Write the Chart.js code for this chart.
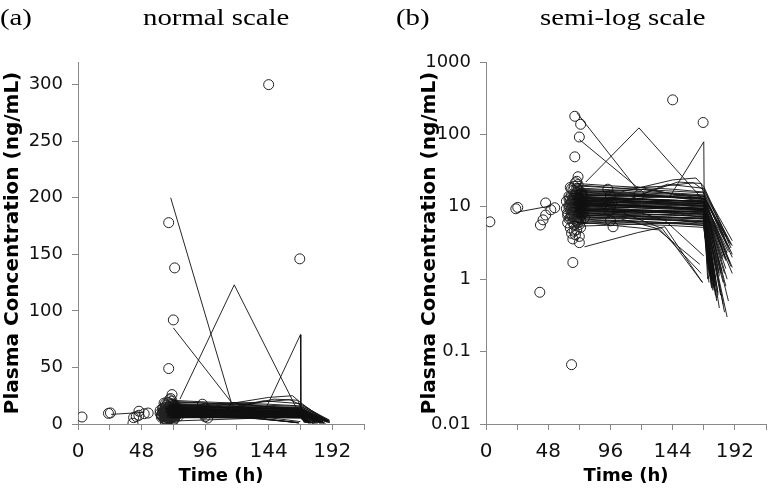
<!DOCTYPE html>
<html>
<head>
<meta charset="utf-8">
<script src="https://cdn.jsdelivr.net/npm/chart.js"></script>
<style>
  body { margin: 0; background: #fff; }
  .panel { position: absolute; top: 0; }
</style>
</head>
<body>
<canvas id="normalChart" class="panel" width="388" height="490" style="left:0"></canvas>
<canvas id="logChart" class="panel" width="388" height="490" style="left:388px"></canvas>
<script>
const timeTicks = [0, 24, 48, 72, 96, 120, 144, 168, 192, 216];
const linearTicks = [0, 50, 100, 150, 200, 250, 300];
const logTicks = [0.01, 0.1, 1, 10, 100, 1000];

// observed concentrations (open circles)
const obsTime = [
  3, 23, 24.5, 41.5, 42, 44, 46, 46, 50, 53,
  66, 67, 72, 68.5, 73, 72, 68.5, 71, 70,
  144, 167.5,
  94, 96, 97, 95, 96, 96, 98, 118,
  63, 64, 64, 65, 65, 65, 66, 66, 66, 66,
  67, 67, 67, 67, 68, 68, 68, 68, 68, 69,
  69, 69, 69, 69, 70, 70, 70, 70, 70, 70,
  71, 71, 71, 71, 72, 72, 72, 72, 72, 73,
  73, 73, 73, 74, 74, 74, 75, 75, 75, 76,
  64, 65, 67, 69, 71, 73, 62, 62, 63, 76,
  64, 65, 66, 67, 68, 69, 70, 71, 72, 73,
  65, 66, 67, 68, 69, 70, 71, 72, 73, 74,
  66, 67, 68, 69, 70, 71, 72, 73, 68, 70,
  63, 64, 66, 68, 70, 72, 74, 69, 71, 67
];
const obsConc = [
  6.2, 9.4, 9.8, 0.66, 5.6, 6.6, 7.7, 11.3, 9.1, 9.7,
  0.066, 1.7, 3.2, 178, 138, 92, 49, 26, 22.5,
  300, 146,
  17.5, 14.2, 11.3, 8.8, 10, 6.4, 5.3, 14.6,
  8.2, 10.5, 6.8, 12.3, 9.1, 5.1, 7.4, 14.6, 11.2, 4.3,
  8.9, 16.8, 6.1, 10.0, 12.9, 7.7, 9.6, 19.2, 5.6, 11.6,
  8.4, 13.8, 6.5, 21.5, 10.3, 7.2, 15.9, 9.0, 4.8, 12.4,
  8.0, 11.0, 17.6, 6.0, 9.5, 13.2, 7.0, 10.8, 3.9, 8.6,
  12.0, 15.1, 6.7, 9.9, 11.8, 7.9, 10.6, 8.3, 13.9, 9.2,
  14.0, 18.5, 3.6, 4.1, 20.3, 5.2, 9.4, 11.9, 6.0, 7.1,
  9.8, 11.0, 8.0, 13.1, 10.8, 9.3, 11.4, 9.0, 12.6, 10.1,
  7.0, 9.9, 11.9, 6.9, 15.0, 8.6, 12.8, 16.2, 9.1, 13.0,
  12.0, 7.2, 14.3, 10.4, 18.0, 6.6, 8.1, 11.2, 10.0, 13.5,
  7.6, 12.9, 17.8, 4.6, 6.2, 5.7, 15.6, 9.7, 14.2, 8.4
];

// individual concentration-time profiles (lines)
const profileTimes = [
  [66, 96, 120, 144, 168, 176], [68, 96, 120, 144, 168, 189], [70, 98, 122, 146, 168, 175],
  [71, 96, 120, 144, 168, 188], [67, 97, 121, 145, 168, 177], [72, 96, 120, 144, 168, 186],
  [69, 96, 120, 144, 168, 173], [68, 95, 119, 143, 168, 184], [73, 96, 120, 144, 168, 178],
  [69, 96, 120, 144, 168, 190], [70, 100, 130, 168, 174], [67, 100, 130, 168, 172],
  [71, 100, 130, 168, 185], [68, 100, 130, 168, 190], [72, 100, 130, 168, 176],
  [70, 100, 130, 168, 174], [66, 100, 130, 168, 187], [69, 110, 140, 168, 175],
  [71, 110, 140, 168, 183], [68, 110, 140, 168, 189], [73, 110, 140, 168, 172],
  [70, 96, 144, 168, 190], [67, 96, 144, 168, 177], [72, 96, 144, 168, 185],
  [69, 96, 144, 168, 174], [71, 90, 120, 150, 168, 180], [68, 90, 120, 150, 168, 182],
  [70, 90, 120, 150, 168, 176], [66, 90, 120, 150, 168, 187], [72, 96, 120, 150, 168, 173],
  [69, 96, 120, 150, 168, 190], [71, 96, 126, 156, 168, 181], [67, 96, 126, 156, 168, 186],
  [73, 96, 126, 156, 168, 175], [68, 96, 126, 156, 168, 177], [70, 96, 126, 156, 168, 188],
  [72, 104, 136, 160, 168, 190], [69, 104, 140, 168, 189], [71, 104, 144, 162, 168, 186],
  [68, 120, 148, 166, 168, 184], [70, 104, 136, 167], [72, 104, 134, 166],
  [69, 110, 138, 168], [67, 100, 133, 165], [71, 96, 120, 144, 168, 171],
  [68, 96, 120, 144, 168, 172], [73, 96, 120, 144, 168, 174], [70, 96, 120, 144, 168, 171],
  [66, 96, 120, 144, 168, 179], [69, 96, 120, 144, 168, 183], [72, 96, 120, 144, 168, 178],
  [70, 96, 120, 144, 168, 180],
  [67, 96, 120, 144, 168, 175], [70, 96, 120, 144, 168, 182], [68, 96, 120, 144, 168, 176],
  [71, 96, 120, 144, 168, 187], [69, 100, 130, 168, 173], [72, 100, 130, 168, 179],
  [66, 100, 130, 168, 185], [70, 110, 140, 168, 177], [68, 110, 140, 168, 181],
  [73, 96, 144, 168, 176], [69, 96, 144, 168, 188], [71, 90, 120, 150, 168, 174],
  [67, 90, 120, 150, 168, 183], [70, 96, 126, 156, 168, 179], [72, 96, 126, 156, 168, 184],
  [68, 96, 126, 156, 168, 172], [69, 96, 120, 144, 168, 190], [71, 96, 120, 144, 168, 177],
  [66, 104, 140, 168, 186], [70, 104, 140, 168, 174],
  [70, 116], [72, 116, 144, 168, 185], [77, 118, 165, 168, 180],
  [70, 96, 142, 168, 168.3, 184], [76, 117, 138, 167], [25, 50]
];
const profileConcs = [
  [9.8, 9.4, 9.1, 8.7, 8.2, 0.9], [13.2, 12.6, 12.9, 11.5, 10.9, 1.5], [7.1, 7.3, 6.8, 6.5, 6.1, 0.8],
  [17.5, 16.8, 17.4, 15.2, 14.1, 2.6], [8.6, 8.4, 8.0, 7.7, 7.3, 0.6], [11.4, 10.9, 10.5, 10.0, 9.5, 0.3],
  [6.0, 5.9, 5.7, 5.5, 5.2, 1.1], [12.4, 12.0, 11.6, 11.1, 10.6, 1.2], [9.3, 9.1, 8.8, 8.4, 8.0, 0.5],
  [15.8, 15.0, 14.3, 13.6, 12.8, 1.45], [10.2, 10.6, 10.0, 9.1, 0.95], [7.8, 7.4, 7.1, 6.8, 1.3],
  [14.6, 13.9, 14.5, 12.0, 0.8], [19.5, 18.2, 17.0, 15.6, 2.2], [8.1, 8.3, 8.5, 8.9, 0.7],
  [5.4, 5.6, 5.9, 6.3, 1.0], [11.0, 11.4, 11.9, 12.3, 0.5], [9.0, 8.6, 8.2, 7.6, 1.2],
  [12.8, 12.2, 11.6, 11.0, 2.0], [16.5, 15.4, 14.0, 13.0, 3.0], [6.6, 6.3, 6.0, 5.6, 0.9],
  [21.0, 19.5, 17.5, 16.0, 2.9], [10.6, 10.3, 9.7, 9.2, 1.0], [13.8, 13.0, 12.4, 11.8, 1.8],
  [7.4, 7.1, 6.8, 6.4, 0.85], [9.9, 10.8, 10.2, 9.6, 9.0, 0.4], [11.8, 11.2, 11.9, 10.8, 10.1, 1.3],
  [8.3, 8.0, 7.7, 7.9, 7.1, 0.75], [14.2, 13.6, 13.0, 12.2, 11.5, 2.4], [5.8, 6.2, 6.7, 6.4, 5.9, 1.0],
  [18.3, 17.2, 16.2, 15.3, 14.6, 2.0], [10.9, 10.6, 10.1, 9.7, 9.3, 0.6], [12.9, 13.4, 12.5, 12.0, 11.6, 1.0],
  [7.6, 7.8, 7.3, 7.0, 6.8, 0.95], [9.5, 9.0, 8.7, 8.6, 8.3, 0.8], [15.0, 14.4, 13.8, 13.4, 13.1, 1.7],
  [20.0, 18.0, 19.2, 21.5, 17.0, 3.4], [12.0, 11.5, 20.5, 18.0, 2.7], [16.8, 16.0, 23.5, 25.0, 19.0, 3.8],
  [14.0, 14.8, 22.0, 21.0, 15.0, 2.1], [8.8, 8.5, 5.0, 0.9], [7.0, 6.8, 4.9, 1.2],
  [9.7, 9.3, 6.5, 2.1], [6.3, 5.5, 4.8, 1.6], [11.2, 10.8, 10.4, 9.9, 9.6, 1.0],
  [10.4, 10.0, 9.6, 9.3, 8.9, 1.2], [12.2, 11.7, 11.3, 10.9, 10.4, 1.4], [8.0, 7.8, 7.5, 7.2, 6.9, 1.6],
  [13.6, 13.1, 12.7, 12.3, 11.9, 0.6], [10.0, 9.7, 9.9, 9.5, 9.1, 0.9], [6.8, 6.5, 6.3, 6.0, 5.8, 0.55],
  [16.0, 15.4, 14.9, 14.4, 13.9, 1.1],
  [10.8, 10.5, 10.1, 9.8, 9.4, 0.7], [11.9, 11.4, 11.0, 10.6, 10.2, 1.9], [8.4, 8.1, 7.9, 7.6, 7.4, 1.05],
  [13.0, 12.5, 12.0, 11.7, 11.3, 2.8], [9.2, 9.0, 8.9, 8.6, 1.15], [10.7, 10.3, 9.9, 9.5, 0.65],
  [12.6, 12.1, 11.5, 11.0, 1.4], [7.7, 7.4, 7.2, 7.0, 0.9], [14.8, 14.0, 13.5, 12.6, 1.25],
  [9.0, 8.7, 8.3, 7.9, 1.1], [17.0, 16.1, 15.0, 14.0, 3.2], [6.4, 6.2, 6.0, 5.8, 5.5, 0.8],
  [11.5, 11.1, 10.7, 10.3, 9.9, 0.45], [10.3, 10.0, 9.5, 9.2, 8.8, 1.3], [13.4, 12.9, 12.4, 11.9, 11.4, 0.35],
  [8.9, 8.6, 8.4, 8.1, 7.8, 1.5], [12.1, 11.6, 11.2, 10.8, 10.3, 1.2], [7.3, 7.0, 6.8, 6.6, 6.3, 1.0],
  [15.3, 14.6, 13.9, 13.3, 2.3], [9.4, 9.1, 8.8, 8.5, 0.75],
  [200, 18], [85, 19, 15, 13, 1.9], [22, 123, 14, 11, 1.2],
  [12, 12.5, 14, 79, 13.7, 3.9], [2.8, 4.4, 5.3, 0.9], [8.5, 10.3]
];

Chart.defaults.font.family = "'DejaVu Sans', sans-serif";
Chart.defaults.color = "#111";

// "(a) normal scale" style headings, Times-like and a bit wide
const panelTitles = {
  id: "panelTitles",
  afterDraw(chart, args, opts) {
    const ctx = chart.ctx;
    ctx.save();
    ctx.fillStyle = "#000";
    ctx.font = '24px "Liberation Serif", serif';
    [[opts.tag, opts.tagX], [opts.text, opts.textX]].forEach(([txt, x]) => {
      ctx.save();
      ctx.translate(x, 25);
      ctx.scale(1.2, 1);
      ctx.fillText(txt, 0, 0);
      ctx.restore();
    });
    ctx.restore();
  }
};

function buildDatasets() {
  const sets = profileTimes.map((times, i) => ({
    data: times.map((t, j) => ({ x: t, y: profileConcs[i][j] })),
    showLine: true,
    pointRadius: 0,
    borderColor: "rgba(15,15,15,0.9)",
    borderWidth: 1,
    order: 1
  }));
  sets.push({
    data: obsTime.map((t, i) => ({ x: t, y: obsConc[i] })),
    pointRadius: 5,
    pointBackgroundColor: "rgba(0,0,0,0)",
    pointBorderColor: "#222",
    pointBorderWidth: 1,
    order: 2
  });
  return sets;
}

function makeChart(id, yScale, rightPad, titleOpts) {
  return new Chart(document.getElementById(id), {
    type: "scatter",
    data: { datasets: buildDatasets() },
    options: {
      responsive: false,
      animation: false,
      events: [],
      layout: { padding: { top: 62, right: rightPad, left: 0, bottom: 0 } },
      plugins: {
        legend: { display: false },
        tooltip: { enabled: false },
        panelTitles: titleOpts
      },
      scales: {
        x: {
          type: "linear",
          min: 0,
          max: 216,
          afterBuildTicks: s => { s.ticks = timeTicks.map(v => ({ value: v })); },
          afterFit: s => { s.height = 66; },
          ticks: {
            font: { size: 20 },
            padding: 10,
            color: "#111",
            maxRotation: 0,
            minRotation: 0,
            autoSkip: false,
            callback: v => (v % 48 === 0 ? String(v) : "")
          },
          grid: { drawOnChartArea: false, tickLength: 6, color: "#888" },
          border: { color: "#888" },
          title: {
            display: true,
            text: "Time (h)",
            color: "#000",
            font: { size: 18, weight: "bold" },
            padding: { top: 0, bottom: 3 }
          }
        },
        y: yScale
      }
    },
    plugins: [panelTitles]
  });
}

function yTitle(pad) {
  return {
    display: true,
    text: "Plasma Concentration (ng/mL)",
    color: "#000",
    font: { size: 20, weight: "bold" },
    padding: { top: pad, bottom: 0 }
  };
}

makeChart("normalChart", {
  type: "linear",
  min: 0,
  max: 320,
  afterBuildTicks: s => { s.ticks = linearTicks.map(v => ({ value: v })); },
  afterFit: s => { s.width = 78; },
  ticks: { font: { size: 18 }, padding: 9, color: "#111" },
  grid: { drawOnChartArea: false, tickLength: 6, color: "#888" },
  border: { color: "#888" },
  title: yTitle(1)
}, 24, { tag: "(a)", tagX: 0, text: "normal scale", textX: 143 });

makeChart("logChart", {
  type: "logarithmic",
  min: 0.01,
  max: 1000,
  afterBuildTicks: s => { s.ticks = logTicks.map(v => ({ value: v })); },
  afterFit: s => { s.width = 98; },
  ticks: { font: { size: 18 }, padding: 9, color: "#111", callback: v => String(v) },
  grid: { drawOnChartArea: false, tickLength: 6, color: "#888" },
  border: { color: "#888" },
  title: yTitle(30)
}, 4, { tag: "(b)", tagX: 8, text: "semi-log scale", textX: 152 });
</script>
</body>
</html>
